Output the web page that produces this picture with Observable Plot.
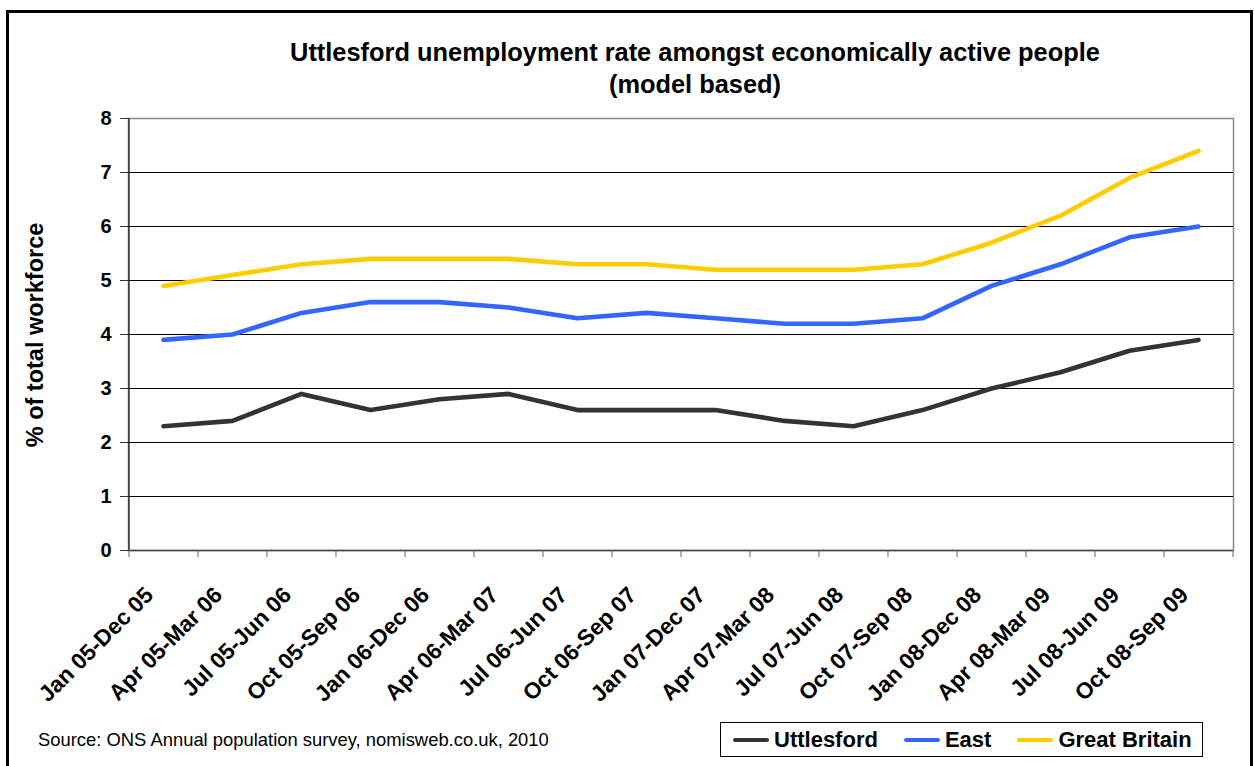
<!DOCTYPE html>
<html>
<head>
<meta charset="utf-8">
<script src="https://cdn.jsdelivr.net/npm/d3@7"></script>
<script src="https://cdn.jsdelivr.net/npm/@observablehq/plot@0.6"></script>
<style>
  html, body { margin: 0; padding: 0; background: #fff; }
  body { font-family: "Liberation Sans", Arial, sans-serif; }
  #wrap { position: relative; width: 1254px; height: 766px; overflow: hidden; background: #fff; }
  #frame { position: absolute; left: 6px; top: 10px; width: 1247px; height: 800px; border: 3px solid #000; box-sizing: border-box; }
  #chart { position: absolute; left: 0; top: 0; }
  #title { position: absolute; left: 145px; width: 1100px; top: 36px; text-align: center;
           font-weight: bold; font-size: 25.4px; line-height: 32px; color: #000; white-space: nowrap; }
  #ylabel { position: absolute; left: 35px; top: 335px; transform: translate(-50%, -50%) rotate(-90deg);
            white-space: nowrap; font-weight: bold; font-size: 23.5px; color: #000; }
  #source { position: absolute; left: 38px; top: 729px; font-size: 18.4px; color: #000; white-space: nowrap; }
  #legend { position: absolute; left: 720px; top: 722px; width: 483px; height: 35px; box-sizing: border-box;
            border: 1px solid #000; background: #fff; display: flex; align-items: center; padding-left: 12px;
            white-space: nowrap; }
  .item { display: flex; align-items: center; flex-shrink: 0; margin-right: 26px; font-weight: bold; font-size: 22px; color: #000; white-space: nowrap; }
  .sw { display: inline-block; width: 36px; height: 4px; border-radius: 2px; margin-right: 5px; }
</style>
</head>
<body>
<div id="wrap">
  <div id="frame"></div>
  <div id="chart"></div>
  <div id="title">Uttlesford unemployment rate amongst economically active people<br>(model based)</div>
  <div id="ylabel">% of total workforce</div>
  <div id="source">Source: ONS Annual population survey, nomisweb.co.uk, 2010</div>
  <div id="legend"></div>
</div>
<script>
// ---- data ----
const periods = [
  "Jan 05-Dec 05", "Apr 05-Mar 06", "Jul 05-Jun 06", "Oct 05-Sep 06",
  "Jan 06-Dec 06", "Apr 06-Mar 07", "Jul 06-Jun 07", "Oct 06-Sep 07",
  "Jan 07-Dec 07", "Apr 07-Mar 08", "Jul 07-Jun 08", "Oct 07-Sep 08",
  "Jan 08-Dec 08", "Apr 08-Mar 09", "Jul 08-Jun 09", "Oct 08-Sep 09"
];
const uttlesford   = [2.3, 2.4, 2.9, 2.6, 2.8, 2.9, 2.6, 2.6, 2.6, 2.4, 2.3, 2.6, 3.0, 3.3, 3.7, 3.9];
const east         = [3.9, 4.0, 4.4, 4.6, 4.6, 4.5, 4.3, 4.4, 4.3, 4.2, 4.2, 4.3, 4.9, 5.3, 5.8, 6.0];
const greatBritain = [4.9, 5.1, 5.3, 5.4, 5.4, 5.4, 5.3, 5.3, 5.2, 5.2, 5.2, 5.3, 5.7, 6.2, 6.9, 7.4];
const seriesNames  = ["Uttlesford", "East", "Great Britain"];
const seriesColors = ["#333333", "#3366ff", "#ffcc00"];
const yTicks = [0, 1, 2, 3, 4, 5, 6, 7, 8];

const seriesValues = [uttlesford, east, greatBritain];
const rows = [];
seriesNames.forEach((name, s) => {
  periods.forEach((p, i) => rows.push({ series: name, period: p, value: seriesValues[s][i] }));
});

// ---- layout ----
const W = 1254, H = 720;
const mL = 128, mR = 21, mT = 118, mB = H - 550;
const step = (W - mL - mR) / periods.length;
const font = '"Liberation Sans", Arial, sans-serif';

const chart = Plot.plot({
  width: W, height: H,
  marginLeft: mL, marginRight: mR, marginTop: mT, marginBottom: mB,
  style: { fontFamily: font, background: "transparent", color: "#000", overflow: "visible" },
  x: { type: "point", domain: periods, padding: 0.5, align: 0.5 },
  y: { domain: [0, 8] },
  color: { domain: seriesNames, range: seriesColors },
  marks: [
    Plot.frame({ fill: "#fff", stroke: "#888", strokeWidth: 1.5 }),
    Plot.gridY(yTicks.slice(1, -1), { stroke: "#000", strokeOpacity: 1, strokeWidth: 1 }),
    Plot.ruleX([periods[0]], { dx: -step / 2, stroke: "#333", strokeWidth: 1.5 }),
    Plot.ruleY([0], { stroke: "#444", strokeWidth: 1.5 }),
    Plot.axisY(yTicks, { tickSize: 8, tickPadding: 9, stroke: "#333", tickFormat: d => String(d),
                         fontSize: 20, fontWeight: "bold", label: null }),
    Plot.axisX(periods, { tickSize: 7, dx: -step / 2, stroke: "#666", tickFormat: () => "", label: null }),
    Plot.axisX([periods[periods.length - 1]], { tickSize: 7, dx: step / 2, stroke: "#666", tickFormat: () => "", label: null }),
    Plot.axisX(periods, { tickSize: 0, tickRotate: -45, textAnchor: "end", lineAnchor: "middle",
                          dx: -14, dy: 29, fontSize: 22.6, fontWeight: "bold", label: null }),
    Plot.line(rows, { x: "period", y: "value", z: "series", stroke: "series",
                      strokeWidth: 4.6, strokeLinejoin: "round", strokeLinecap: "round" })
  ]
});
document.getElementById("chart").appendChild(chart);

// ---- legend ----
const legend = document.getElementById("legend");
seriesNames.forEach((name, i) => {
  const item = document.createElement("span");
  item.className = "item";
  const sw = document.createElement("span");
  sw.className = "sw";
  sw.style.background = seriesColors[i];
  item.appendChild(sw);
  item.appendChild(document.createTextNode(name));
  legend.appendChild(item);
});
</script>
</body>
</html>
